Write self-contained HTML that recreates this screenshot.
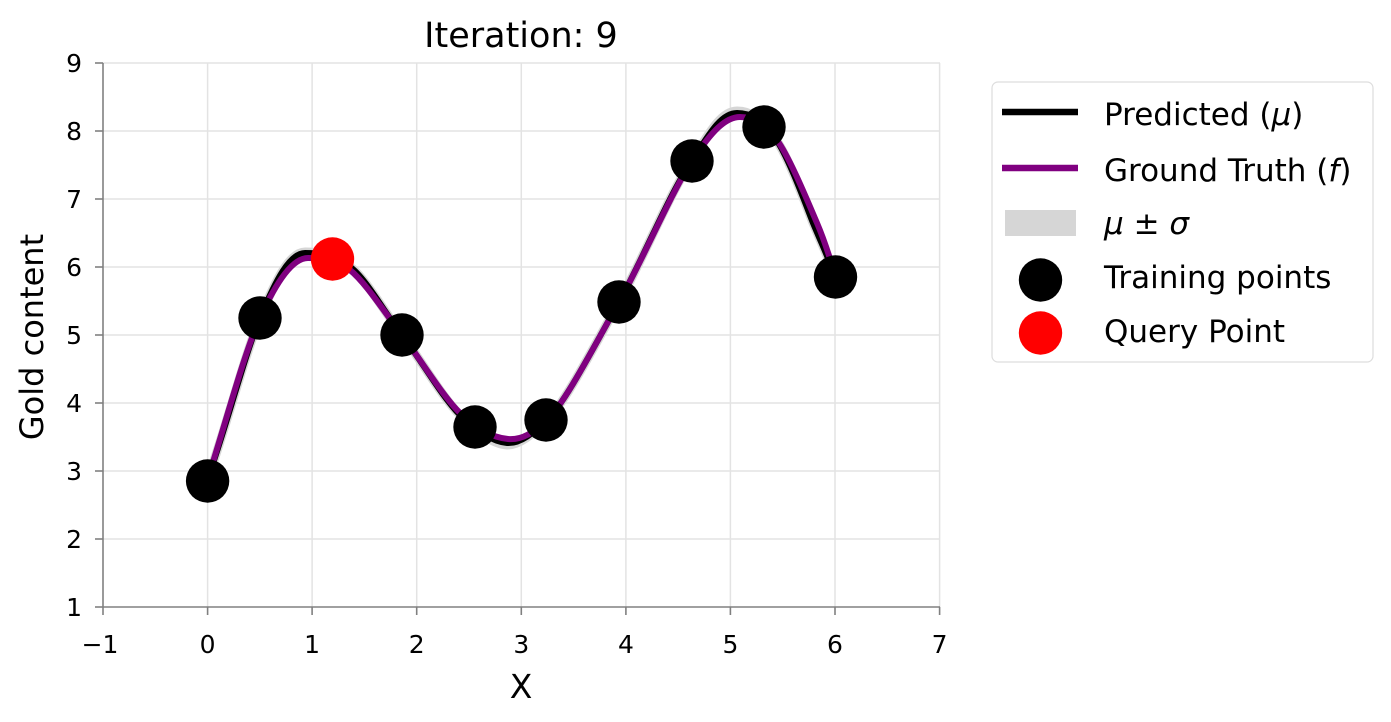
<!DOCTYPE html>
<html>
<head>
<meta charset="utf-8">
<style>
  html, body { margin: 0; padding: 0; background: #ffffff; }
  body { width: 1391px; height: 722px; overflow: hidden; }
  svg { display: block; }
  text { font-family: "DejaVu Sans", "Liberation Sans", sans-serif; fill: #000; }
</style>
</head>
<body>
<svg width="1391" height="722" viewBox="0 0 1391 722" xmlns="http://www.w3.org/2000/svg">
  <rect x="0" y="0" width="1391" height="722" fill="#ffffff"/>

  <!-- Grid -->
  <g stroke="#e3e3e3" stroke-width="1.5" fill="none">
    <line x1="207.6" y1="63" x2="207.6" y2="607"/>
    <line x1="312.1" y1="63" x2="312.1" y2="607"/>
    <line x1="416.7" y1="63" x2="416.7" y2="607"/>
    <line x1="521.3" y1="63" x2="521.3" y2="607"/>
    <line x1="625.9" y1="63" x2="625.9" y2="607"/>
    <line x1="730.4" y1="63" x2="730.4" y2="607"/>
    <line x1="835" y1="63" x2="835" y2="607"/>
    <line x1="939.6" y1="63" x2="939.6" y2="607"/>
    <line x1="103" y1="63" x2="940" y2="63"/>
    <line x1="103" y1="131" x2="940" y2="131"/>
    <line x1="103" y1="199" x2="940" y2="199"/>
    <line x1="103" y1="267" x2="940" y2="267"/>
    <line x1="103" y1="335" x2="940" y2="335"/>
    <line x1="103" y1="403" x2="940" y2="403"/>
    <line x1="103" y1="471" x2="940" y2="471"/>
    <line x1="103" y1="539" x2="940" y2="539"/>
  </g>

  <!-- Spines -->
  <g stroke="#808080" stroke-width="1.6" fill="none">
    <line x1="103" y1="63" x2="103" y2="607"/>
    <line x1="103" y1="607" x2="940" y2="607"/>
    <line x1="95" y1="63" x2="103" y2="63"/>
    <line x1="95" y1="131" x2="103" y2="131"/>
    <line x1="95" y1="199" x2="103" y2="199"/>
    <line x1="95" y1="267" x2="103" y2="267"/>
    <line x1="95" y1="335" x2="103" y2="335"/>
    <line x1="95" y1="403" x2="103" y2="403"/>
    <line x1="95" y1="471" x2="103" y2="471"/>
    <line x1="95" y1="539" x2="103" y2="539"/>
    <line x1="95" y1="607" x2="103" y2="607"/>
    <line x1="103" y1="607" x2="103" y2="615"/>
    <line x1="207.6" y1="607" x2="207.6" y2="615"/>
    <line x1="312.1" y1="607" x2="312.1" y2="615"/>
    <line x1="416.7" y1="607" x2="416.7" y2="615"/>
    <line x1="521.3" y1="607" x2="521.3" y2="615"/>
    <line x1="625.9" y1="607" x2="625.9" y2="615"/>
    <line x1="730.4" y1="607" x2="730.4" y2="615"/>
    <line x1="835" y1="607" x2="835" y2="615"/>
    <line x1="939.6" y1="607" x2="939.6" y2="615"/>
  </g>

  <!-- Y tick labels -->
  <g font-size="25" text-anchor="end">
    <text x="82" y="72">9</text>
    <text x="82" y="140">8</text>
    <text x="82" y="208">7</text>
    <text x="82" y="276">6</text>
    <text x="82" y="344">5</text>
    <text x="82" y="412">4</text>
    <text x="82" y="480">3</text>
    <text x="82" y="548">2</text>
    <text x="82" y="616">1</text>
  </g>

  <!-- X tick labels -->
  <g font-size="25" text-anchor="middle">
    <text x="100" y="653">−1</text>
    <text x="207.6" y="653">0</text>
    <text x="312.1" y="653">1</text>
    <text x="416.7" y="653">2</text>
    <text x="521.3" y="653">3</text>
    <text x="625.9" y="653">4</text>
    <text x="730.4" y="653">5</text>
    <text x="835" y="653">6</text>
    <text x="939.6" y="653">7</text>
  </g>

  <!-- Axis labels and title -->
  <text x="521" y="698" font-size="33" text-anchor="middle">X</text>
  <text transform="translate(43,337) rotate(-90)" font-size="32" text-anchor="middle">Gold content</text>
  <text x="521" y="47" font-size="35" text-anchor="middle">Iteration: 9</text>

  <!-- uncertainty band (approx) -->
  <path d="M207,481 C226,428 244,357 260,318 C276,279 290,252 305,252 C320,252 333,254 349,266 C365,277 383,310 402,335 C421,360 442,397 460,415 C478,433 493,444 507,445 C521,445 534,432 546,421 C564,405 594.7,345.3 619,302 C643.3,258.7 671,190 692,161 C712,127 723,111 737,111 C750,111 762,118 775,138 C788,156 804,200 813,223 C823,247 829,259 835,277"
        fill="none" stroke="#d6d6d6" stroke-width="9" stroke-linecap="butt" stroke-linejoin="round"/>

  <!-- Predicted mean (black) -->
  <path d="M207,481 C226,428 244,357 260,318 C276,279 290,253 305,253 C320,253 333,255 349,266 C365,277 383,310 402,335 C421,360 442,397 460,415 C478,432 493,442 507,443 C521,444 534,432 546,421 C564,405 594.7,345.3 619,302 C643.3,258.7 671,190 692,161 C712,128 723,113 737,113 C750,113 762,119 775,138 C788,156 804,200 813,223 C823,247 829,259 835,277"
        fill="none" stroke="#000000" stroke-width="6" stroke-linejoin="round"/>

  <!-- Ground truth (purple) -->
  <path d="M207,481 C224.7,426.7 243.2,355.2 260,318 C276.8,280.8 293,258 308,258 C323,258 335,259 350,270 C365.7,282.8 383.7,311.2 402,335 C420.3,358.8 442.3,395.7 460,413 C477.7,430.3 493.7,437.7 508,439 C522.3,440.3 534,432 546,421 C564,405 594.7,345.3 619,302 C643.3,258.7 671.8,191.8 692,161 C712.2,130.2 726,117 740,117 C752,117 764.2,122.3 777,140 C789.8,157.7 807.2,200.2 817,223 C826.8,245.8 829.7,259 836,277"
        fill="none" stroke="#800080" stroke-width="6" stroke-linejoin="round"/>

  <!-- Training points -->
  <g fill="#000000">
    <circle cx="207.6" cy="481" r="21.7"/>
    <circle cx="260" cy="318" r="21.7"/>
    <circle cx="402" cy="335" r="21.7"/>
    <circle cx="475" cy="427" r="21.7"/>
    <circle cx="546" cy="420" r="21.7"/>
    <circle cx="619" cy="302" r="21.7"/>
    <circle cx="692" cy="161" r="21.7"/>
    <circle cx="764" cy="127" r="21.7"/>
    <circle cx="835.5" cy="277" r="21.7"/>
  </g>
  <!-- Query point -->
  <circle cx="332.5" cy="259" r="21.7" fill="#ff0000"/>

  <!-- Legend -->
  <rect x="992" y="82" width="381" height="280" rx="6" ry="6" fill="#ffffff" stroke="#dddddd" stroke-width="1.2"/>
  <line x1="1002" y1="112" x2="1078" y2="112" stroke="#000000" stroke-width="6.5"/>
  <line x1="1002" y1="168" x2="1078" y2="168" stroke="#800080" stroke-width="6.5"/>
  <rect x="1005" y="210" width="71" height="26" fill="#d6d6d6"/>
  <circle cx="1040.5" cy="280" r="21.7" fill="#000000"/>
  <circle cx="1040.5" cy="333" r="21.7" fill="#ff0000"/>
  <g font-size="31">
    <text x="1104" y="125">Predicted (<tspan font-style="italic">μ</tspan>)</text>
    <text x="1104" y="181">Ground Truth (<tspan font-style="italic">f</tspan>)</text>
    <text x="1104" y="234"><tspan font-style="italic">μ</tspan> ± <tspan font-style="italic">σ</tspan></text>
    <text x="1104" y="288">Training points</text>
    <text x="1104" y="342">Query Point</text>
  </g>
</svg>
</body>
</html>
